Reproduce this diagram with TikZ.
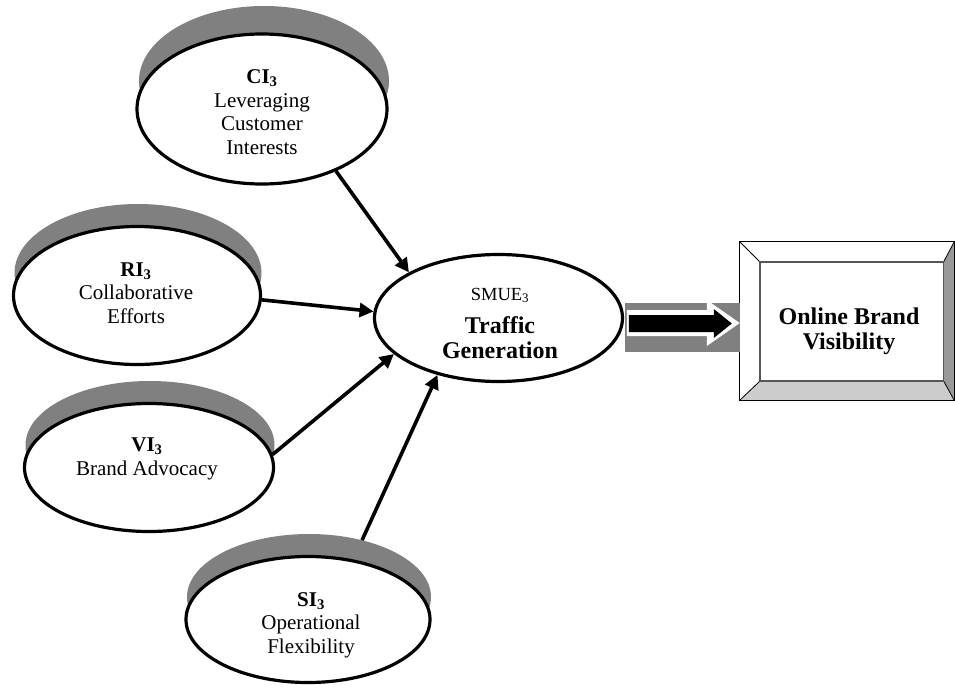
\documentclass[tikz,border=0pt]{standalone}
\usepackage{fontspec}
\setmainfont{Liberation Serif}
\usetikzlibrary{arrows.meta,shapes.geometric,calc}
\definecolor{shadowgray}{HTML}{808080}
\definecolor{bevelright}{HTML}{999999}
\definecolor{bevelbottom}{HTML}{CCCCCC}
\definecolor{innerline}{HTML}{555555}
\begin{document}
\begin{tikzpicture}[x=1pt,y=-1pt,
  oval/.style={ellipse, draw=black, line width=3.2pt, fill=white, inner sep=0pt},
  ovalshadow/.style={ellipse, fill=shadowgray, inner sep=0pt},
  lbl/.style={align=center, inner sep=0pt, font=\fontsize{21}{23.5}\selectfont},
  bigbold/.style={align=center, inner sep=0pt, font=\fontsize{24}{25}\selectfont\bfseries},
  link/.style={line width=3.6pt, -{Triangle[length=14pt,width=14pt]}}]
\useasboundingbox (0,0) rectangle (955,688);

% raised ovals: grey rim behind, white face in front
\node[ovalshadow, minimum width=250pt, minimum height=150pt] (ci-s) at (264,81) {};
\node[oval, minimum width=250pt, minimum height=150pt] (ci) at (262,109) {};
\node[lbl] (ci-t) at (262,112) {\textbf{CI\textsubscript{3}}\\Leveraging\\Customer\\Interests};

\node[ovalshadow, minimum width=247pt, minimum height=138pt] (ri-s) at (138,273) {};
\node[oval, minimum width=247pt, minimum height=138pt] (ri) at (137,295.5) {};
\node[lbl] (ri-t) at (136,293) {\textbf{RI\textsubscript{3}}\\Collaborative\\Efforts};

\node[ovalshadow, minimum width=249pt, minimum height=128pt] (vi-s) at (150,445) {};
\node[oval, minimum width=249pt, minimum height=128pt] (vi) at (149,467.5) {};
\node[lbl] (vi-t) at (147,459) {\textbf{VI\textsubscript{3}}\\Brand Advocacy};

\node[ovalshadow, minimum width=244pt, minimum height=126pt] (si-s) at (309,597) {};
\node[oval, minimum width=244pt, minimum height=126pt] (si) at (308,619.5) {};
\node[lbl] (si-t) at (311,625) {\textbf{SI\textsubscript{3}}\\Operational\\Flexibility};

% central construct
\node[oval, minimum width=248pt, minimum height=127pt] (smue) at (498.5,318) {};
\node[anchor=base, inner sep=0pt, font=\fontsize{18.5}{20}\selectfont] (smue-code) at (500,300) {SMUE\textsubscript{3}};
\node[bigbold] (smue-t) at (500,338) {Traffic\\Generation};

% converging arrows
\draw[link] (ci.-40) -- (smue.153);
\draw[link] (ri.-2) -- (smue.177.7);
\draw[link] (vi.6.7) -- (smue.-161.5);
\draw[link] (si-s.47) -- (smue.-137);

% bevelled outcome box
\path node[minimum width=214pt, minimum height=158pt, inner sep=0pt] (obv) at (847,321) {};
\coordinate (in-nw) at ($(obv.north west)+(20,20)$);
\coordinate (in-ne) at ($(obv.north east)+(-10.5,20)$);
\coordinate (in-se) at ($(obv.south east)+(-10.5,-19)$);
\coordinate (in-sw) at ($(obv.south west)+(20,-19)$);
\fill[white] (obv.north west) -- (obv.north east) -- (in-ne) -- (in-nw) -- cycle;
\fill[white] (obv.north west) -- (in-nw) -- (in-sw) -- (obv.south west) -- cycle;
\fill[bevelright] (obv.north east) -- (obv.south east) -- (in-se) -- (in-ne) -- cycle;
\fill[bevelbottom] (obv.south west) -- (in-sw) -- (in-se) -- (obv.south east) -- cycle;
\draw[black, line width=0.8pt] (obv.north west) -- (in-nw) (obv.north east) -- (in-ne)
  (obv.south east) -- (in-se) (obv.south west) -- (in-sw);
\draw[innerline, line width=1.5pt] (in-nw) rectangle (in-se);
\draw[black, line width=1.3pt] (obv.north west) rectangle (obv.south east);
\node[bigbold] (obv-t) at (849,331.5) {Online Brand\\Visibility};

% block arrow into the box
\begin{scope}[shift={(obv.west)}]
  \fill[shadowgray] (-115,-18) rectangle (0,31);
  \fill[white] (-113,-11) -- (-33,-11) -- (-33,-21) -- (0,2) -- (-33,25) -- (-33,15) -- (-113,15) -- cycle;
  \fill[black] (-111,-6) -- (-26,-6) -- (-26,-12) -- (-8,2.5) -- (-26,17) -- (-26,11) -- (-111,11) -- cycle;
\end{scope}
\end{tikzpicture}
\end{document}
